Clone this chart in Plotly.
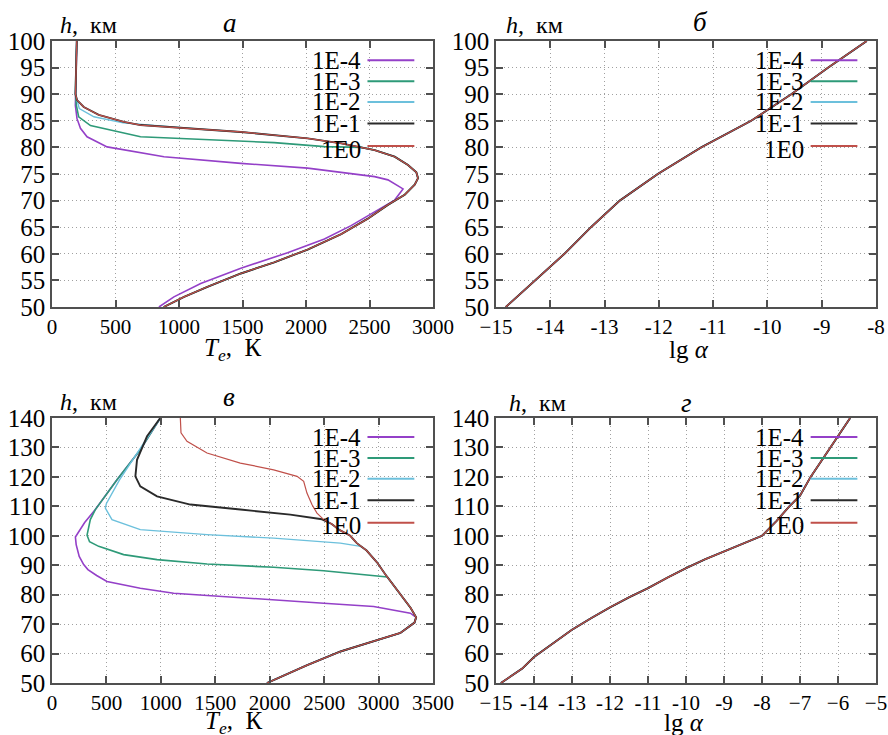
import plotly.graph_objects as go

# ---------------- data ----------------
series_names = ["1E-4", "1E-3", "1E-2", "1E-1", "1E0"]
series_colors = ["#9440c8", "#2e9a78", "#6cc0dc", "#2a2a2a", "#c0504a"]

# Panel а : Te (K) vs h (km)
h_a_4 = [50, 51.9, 54.4, 57.3, 60.2, 62.8, 65.3, 67.9, 70.1, 72.2, 73.9, 74.5, 76.1, 77.0, 78.25, 80.1, 82.0, 83.6, 85.4, 87.9, 90, 95, 100]
te_a_4 = [842, 960, 1171, 1487, 1855, 2145, 2355, 2540, 2698, 2764, 2645, 2540, 2013, 1487, 882, 434, 276, 224, 197, 184, 185, 188, 195]

h_a_3 = [50, 51.9, 53.8, 56.3, 58.4, 60.8, 63.7, 66.6, 69.2, 71.1, 73, 74.2, 75.3, 76.7, 78.25, 79.5, 80.0, 80.15, 80.9, 81.4, 82.0, 84.1, 85.75, 87.9, 90, 95, 100]
te_a_3 = [880, 1040, 1224, 1487, 1750, 2013, 2277, 2487, 2645, 2777, 2856, 2882, 2869, 2803, 2698, 2540, 2435, 2145, 1750, 1224, 697, 303, 210, 192, 185, 188, 195]

h_a_2 = [50, 51.9, 53.8, 56.3, 58.4, 60.8, 63.7, 66.6, 69.2, 71.1, 73, 74.2, 75.3, 76.7, 78.25, 79.5, 80.2, 80.75, 81.7, 82.9, 83.5, 84.0, 84.6, 85.75, 87.3, 88.9, 90, 95, 100]
te_a_2 = [880, 1040, 1224, 1487, 1750, 2013, 2277, 2487, 2645, 2777, 2856, 2882, 2869, 2803, 2698, 2540, 2393, 2277, 2013, 1487, 1122, 850, 560, 330, 215, 197, 185, 188, 195]

h_a_1 = [50, 51.9, 53.8, 56.3, 58.4, 60.8, 63.7, 66.6, 69.2, 71.1, 73, 74.2, 75.3, 76.7, 78.25, 79.5, 80.2, 80.75, 81.7, 82.9, 83.5, 84.2, 84.8, 86.1, 87.6, 88.9, 90, 95, 100]
te_a_1 = [880, 1040, 1224, 1487, 1750, 2013, 2277, 2487, 2645, 2777, 2856, 2882, 2869, 2803, 2698, 2540, 2393, 2277, 2013, 1487, 1122, 697, 566, 368, 250, 197, 185, 188, 195]

h_a_0 = [50, 51.9, 53.8, 56.3, 58.4, 60.8, 63.7, 66.6, 69.2, 71.1, 73, 74.2, 75.3, 76.7, 78.25, 79.5, 80.2, 80.75, 81.7, 82.9, 83.5, 84.2, 84.8, 86.1, 87.6, 88.9, 90, 95, 100]
te_a_0 = [880, 1040, 1224, 1487, 1750, 2013, 2277, 2487, 2645, 2777, 2856, 2882, 2869, 2803, 2698, 2540, 2393, 2277, 2013, 1487, 1122, 697, 566, 368, 250, 197, 185, 188, 195]

# Panel б : lg(alpha) vs h (all five series coincide)
h_b = [50, 55, 60, 65, 67.3, 70, 75, 80, 85, 90, 95, 100]
lga_b = [-14.82, -14.29, -13.74, -13.25, -13.0, -12.72, -12.02, -11.22, -10.30, -9.56, -8.88, -8.17]

# Panel в : Te (K) vs h (km)
h_c_0 = [50, 56, 60.7, 64, 67, 70.5, 72.3, 75.5, 80, 84, 87, 91, 95, 97.5, 100, 102, 104, 105.5, 107.7, 110.6, 114.5, 118.5, 120.2, 122.4, 124.7, 128.1, 132.1, 135, 140]
te_c_0 = [1975, 2340, 2650, 2950, 3200, 3330, 3345, 3295, 3200, 3120, 3060, 2985, 2890, 2800, 2740, 2640, 2570, 2496, 2434, 2388, 2342, 2312, 2251, 2036, 1730, 1424, 1240, 1185, 1179]

h_c_1 = [50, 56, 60.7, 64, 67, 70.5, 72.3, 75.5, 80, 84, 87, 91, 95, 97.5, 100, 102, 104, 105.6, 107.2, 108.9, 110.6, 113.4, 116.8, 120.2, 125.8, 133.8, 140]
te_c_1 = [1975, 2340, 2650, 2950, 3200, 3330, 3345, 3295, 3200, 3120, 3060, 2985, 2890, 2800, 2740, 2640, 2570, 2480, 2189, 1730, 1271, 965, 811, 766, 781, 873, 995]

h_c_2 = [50, 56, 60.7, 64, 67, 70.5, 72.3, 75.5, 80, 84, 87, 91, 95, 96.4, 97.5, 99.2, 100.4, 102.1, 105.5, 109.4, 111, 119, 129.5, 140]
te_c_2 = [1975, 2340, 2650, 2950, 3200, 3330, 3345, 3295, 3200, 3120, 3060, 2985, 2890, 2835, 2649, 2036, 1424, 811, 551, 490, 500, 620, 810, 995]

h_c_3 = [50, 56, 60.7, 64, 67, 70.5, 72.3, 75.5, 80, 84, 86, 88.1, 89.3, 90.4, 91.9, 93.6, 96.4, 98, 100.2, 105.5, 108.9, 119, 129.2, 140]
te_c_3 = [1975, 2340, 2650, 2950, 3200, 3330, 3345, 3295, 3200, 3120, 3080, 2496, 2036, 1424, 965, 658, 429, 345, 322, 352, 398, 597, 811, 995]

h_c_4 = [50, 56, 60.7, 64, 67, 70.5, 72.3, 73.7, 76, 77.1, 78.3, 79.4, 80.5, 82.2, 84.5, 86.5, 88.5, 90.2, 93, 97, 99.6, 104.5, 108.9, 119, 129.2, 140]
te_c_4 = [1975, 2340, 2650, 2950, 3200, 3330, 3345, 3292, 2955, 2496, 2036, 1577, 1118, 811, 505, 410, 330, 291, 250, 222, 215, 300, 398, 597, 811, 995]

# Panel г : lg(alpha) vs h (all five series coincide)
h_d = [50, 55, 58.8, 63.5, 68.1, 72, 75.7, 79.1, 82.2, 85.7, 89, 92, 94.7, 97.3, 100, 105, 110, 113.6, 120, 130, 140]
lga_d = [-14.87, -14.30, -14.0, -13.5, -13.0, -12.5, -12.0, -11.5, -11.0, -10.5, -10.0, -9.5, -9.0, -8.5, -8.0, -7.62, -7.28, -7.0, -6.72, -6.20, -5.68]

# tick labels
ticks_te_a = [0, 500, 1000, 1500, 2000, 2500, 3000]
ticks_te_c = [0, 500, 1000, 1500, 2000, 2500, 3000, 3500]
ticks_h_top = [50, 55, 60, 65, 70, 75, 80, 85, 90, 95, 100]
ticks_h_bot = [50, 60, 70, 80, 90, 100, 110, 120, 130, 140]
ticks_lg_b = [-15, -14, -13, -12, -11, -10, -9, -8]
ticklabels_lg_b = ["\u221215", "-14", "-13", "-12", "-11", "-10", "-9", "-8"]
ticks_lg_d = [-15, -14, -13, -12, -11, -10, -9, -8, -7, -6, -5]
ticklabels_lg_d = ["\u221215", "-14", "-13", "-12", "-11", "-10", "-9", "-8", "\u22127", "\u22126", "\u22125"]

# ---------------- figure ----------------
W, H = 888, 735
FONT = "'Liberation Serif', 'Times New Roman', 'DejaVu Serif', serif"

def px_x(p):
    return p / W

def px_y(p):
    return 1 - p / H

dom_x_left = [px_x(52), px_x(433)]
dom_x_right = [px_x(496), px_x(876)]
dom_y_top = [px_y(307), px_y(41)]
dom_y_bot = [px_y(683), px_y(418)]

fig = go.Figure()

panel_a = [(te_a_4, h_a_4), (te_a_3, h_a_3), (te_a_2, h_a_2), (te_a_1, h_a_1), (te_a_0, h_a_0)]
panel_c = [(te_c_4, h_c_4), (te_c_3, h_c_3), (te_c_2, h_c_2), (te_c_1, h_c_1), (te_c_0, h_c_0)]
panel_b = [(lga_b, h_b)] * 5
panel_d = [(lga_d, h_d)] * 5

widths = [1.6, 1.6, 1.4, 1.9, 1.2]

for data, xa, ya in [(panel_a, "x", "y"), (panel_b, "x2", "y2"), (panel_c, "x3", "y3"), (panel_d, "x4", "y4")]:
    for i, (xs, ys) in enumerate(data):
        fig.add_trace(go.Scatter(
            x=xs, y=ys, mode="lines", name=series_names[i],
            line=dict(color=series_colors[i], width=widths[i]),
            xaxis=xa, yaxis=ya, showlegend=False, hoverinfo="skip"))

axis_common = dict(
    showline=True, linecolor="#505050", linewidth=1.5, mirror="ticks",
    ticks="inside", ticklen=7, tickwidth=1.5, tickcolor="#505050",
    showgrid=True, gridcolor="#a0a0a0", griddash="1px,3px", gridwidth=1.2,
    zeroline=False, automargin=False,
)
xfont = dict(family=FONT, size=21, color="black")
yfont = dict(family=FONT, size=25, color="black")

fig.update_layout(
    width=W, height=H,
    margin=dict(l=0, r=0, t=0, b=0, autoexpand=False),
    paper_bgcolor="white", plot_bgcolor="white",
    showlegend=False,
    font=dict(family=FONT, color="black"),
    xaxis=dict(domain=dom_x_left, range=[0, 3000], tickvals=ticks_te_a, tickfont=xfont, anchor="y", **axis_common),
    yaxis=dict(domain=dom_y_top, range=[50, 100], tickvals=ticks_h_top, tickfont=yfont, anchor="x", **axis_common),
    xaxis2=dict(domain=dom_x_right, range=[-15, -8], tickvals=ticks_lg_b, ticktext=ticklabels_lg_b, tickfont=xfont, anchor="y2", **axis_common),
    yaxis2=dict(domain=dom_y_top, range=[50, 100], tickvals=ticks_h_top, tickfont=yfont, anchor="x2", **axis_common),
    xaxis3=dict(domain=dom_x_left, range=[0, 3500], tickvals=ticks_te_c, tickfont=xfont, anchor="y3", **axis_common),
    yaxis3=dict(domain=dom_y_bot, range=[50, 140], tickvals=ticks_h_bot, tickfont=yfont, anchor="x3", **axis_common),
    xaxis4=dict(domain=dom_x_right, range=[-15, -5], tickvals=ticks_lg_d, ticktext=ticklabels_lg_d, tickfont=xfont, anchor="y4", **axis_common),
    yaxis4=dict(domain=dom_y_bot, range=[50, 140], tickvals=ticks_h_bot, tickfont=yfont, anchor="x4", **axis_common),
)

annotations = []
shapes = []

# manual legends (text left, line sample right)
legend_rows = [0.928, 0.849, 0.771, 0.690, 0.605]
for xa, ya in [("x", "y"), ("x2", "y2"), ("x3", "y3"), ("x4", "y4")]:
    for i, name in enumerate(series_names):
        yy = legend_rows[i]
        annotations.append(dict(
            text=name, x=0.815, y=yy + (-0.012 if i == 4 else 0.0),
            xref=f"{xa} domain", yref=f"{ya} domain",
            xanchor="right", yanchor="middle", showarrow=False,
            font=dict(family=FONT, size=25, color="black")))
        shapes.append(dict(
            type="line", x0=0.828, x1=0.951, y0=yy, y1=yy,
            xref=f"{xa} domain", yref=f"{ya} domain",
            line=dict(color=series_colors[i], width=2)))

def ann(text, x, y, size):
    annotations.append(dict(
        text=text, x=px_x(x), y=px_y(y), xref="paper", yref="paper",
        xanchor="center", yanchor="middle", showarrow=False,
        font=dict(family=FONT, size=size, color="black")))

# y-axis titles
ylab = "<i>h</i>,\u00a0\u00a0км"
ann(ylab, 88, 25, 24)
ann(ylab, 534, 25, 24)
ann(ylab, 88, 402, 24)
ann(ylab, 537, 403, 24)
# panel letters
ann("<i>а</i>", 230, 23, 27)
ann("<i>б</i>", 700, 22, 27)
ann("<i>в</i>", 229, 397, 27)
ann("<i>г</i>", 686, 403, 27)
# x-axis titles
xlab_te = "<i>T</i><sub><i>e</i></sub>,\u00a0\u00a0К"
ann(xlab_te, 232, 349, 25)
ann(xlab_te, 233, 722, 25)
ann("lg\u00a0<i>α</i>", 689, 349, 25)
ann("lg\u00a0<i>α</i>", 684, 722, 25)

fig.update_layout(annotations=annotations, shapes=shapes)

fig.write_html(
    "out.html",
    config={"displayModeBar": False},
    post_script="document.body.style.margin='0';document.body.style.padding='0';document.body.style.overflow='hidden';",
)
